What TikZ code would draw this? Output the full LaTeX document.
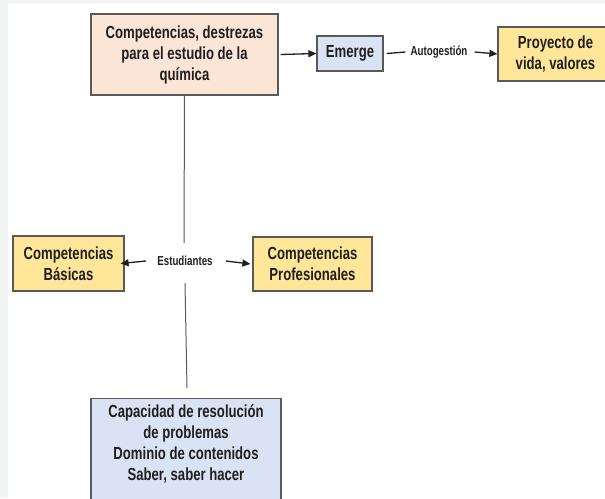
\documentclass[tikz,border=0pt]{standalone}
\usepackage{fontspec}
\setmainfont{Liberation Sans}[FakeStretch=0.75]
\usetikzlibrary{arrows.meta}
\definecolor{peach}{HTML}{FBE5D6}
\definecolor{lblue}{HTML}{DAE3F3}
\definecolor{lyellow}{HTML}{FFE699}
\definecolor{edgegray}{HTML}{595959}
\definecolor{ink}{HTML}{1F1F1F}
\definecolor{bggray}{HTML}{F2F3F3}
\begin{document}
\begin{tikzpicture}[x=1pt,y=-1pt,
  box/.style={draw=edgegray,line width=1.2pt,rectangle,align=center,inner sep=0pt,text=ink,font=\bfseries\fontsize{17.5}{21}\selectfont},
  boxtext/.style={align=center,inner sep=0pt,text=ink,font=\bfseries\fontsize{17.5}{21}\selectfont},
  lbl/.style={text=ink,font=\bfseries\fontsize{13}{15}\selectfont,inner sep=0pt},
  arr/.style={-{Triangle[length=8pt,width=7pt]},line width=1.3pt,draw=ink},
  conn/.style={line width=1pt,draw=edgegray},
  plain/.style={line width=1.3pt,draw=ink}]
\useasboundingbox (0,0) rectangle (605,498);
\fill[bggray] (0,0) rectangle (605,498);
\fill[white] (8,3) rectangle (605,498);
\clip (0,0) rectangle (605,498);
% nodes
\node[box,fill=peach,minimum width=187pt,minimum height=81pt] (comp) at (184.5,54.5) {Competencias, destrezas\\para el estudio de la\\química};
\node[box,fill=lblue,minimum width=66pt,minimum height=35pt] (emerge) at (350,53.5) {Emerge};
\node[lbl] (auto) at (439,52) {Autogestión};
\node[box,fill=lyellow,minimum width=115pt,minimum height=54pt] (proy) at (555.5,54) {Proyecto de\\vida, valores};
\node[box,fill=lyellow,minimum width=111pt,minimum height=55pt] (basic) at (68.5,263.5) {Competencias\\Básicas};
\node[lbl] (stud) at (185,261) {Estudiantes};
\node[box,fill=lyellow,minimum width=119pt,minimum height=54pt] (prof) at (312.5,264) {Competencias\\Profesionales};
\node[box,fill=lblue,minimum width=190pt,minimum height=120pt,anchor=north] (cap) at (186,398) {};
\node[boxtext] (captext) at (186,444) {Capacidad de resolución\\de problemas\\Dominio de contenidos\\Saber, saber hacer};
% connectors
\coordinate (v1) at (184,243);
\coordinate (v2) at (185,283);
\coordinate (v3) at (187,388);
\draw[conn] (comp.south) -- (v1);
\draw[conn] (v2) -- (v3);
\draw[arr] ([xshift=2pt]comp.east) -- (emerge.west);
\draw[plain] ([xshift=3pt]emerge.east) -- ([xshift=-5pt]auto.west);
\draw[arr] ([xshift=7pt]auto.east) -- (proy.west);
\draw[arr] ([xshift=-11pt]stud.west) -- ([xshift=-4pt]basic.east);
\draw[arr] ([xshift=13pt]stud.east) -- ([xshift=-2pt]prof.west);
\end{tikzpicture}
\end{document}
